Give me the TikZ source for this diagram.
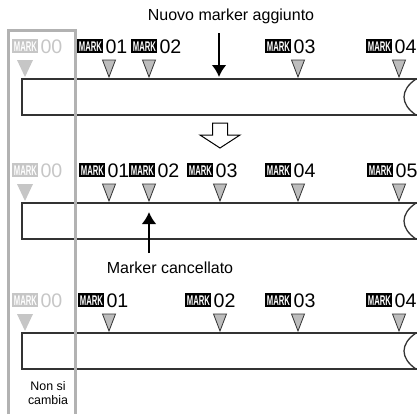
\documentclass[tikz,border=0pt]{standalone}
\usepackage{fontspec}
\setmainfont{Liberation Sans}
\usepackage{graphicx}
\usetikzlibrary{arrows.meta}

\definecolor{markgray}{HTML}{BDBDBD}
\definecolor{fadegray}{HTML}{C6C6C6}
\definecolor{boxgray}{HTML}{B2B2B2}

% badge "MARK" + number
\newcommand{\markbadge}[1]{{\setlength{\fboxsep}{0pt}\colorbox{#1}{\makebox[13pt]{\rule{0pt}{7pt}\raisebox{1pt}{\color{white}\scalebox{0.55}[1]{\fontsize{7}{7}\selectfont\bfseries MARK}}}}}}
\newcommand{\marklabel}[2]{\markbadge{#1}\hspace{1.1pt}{\fontsize{9.8}{10}\selectfont\textcolor{#1}{#2}}}

\begin{document}
\begin{tikzpicture}[x=0.5pt, y=-0.5pt, >=Latex,
  every node/.style={inner sep=0pt, font=\fontsize{8}{9.6}\selectfont},
  lbl/.style={anchor=base west},
  strip/.style={draw=black!80, line width=0.65pt},
  tri/.style={fill=markgray, draw=black!80, line width=0.4pt},
  fadetri/.style={fill=fadegray},
  arrow/.style={-{Latex[length=6pt,width=7.5pt]}, line width=1.4pt}]
  \useasboundingbox (0,0) rectangle (417,414);

  % Row 1: new marker added
  \node (added) at (231,16) {Nuovo marker aggiunto};
  \draw[strip] (417,79) -- (22,79) -- (22,115) -- (417,115);
  \draw[strip] (416,79) .. controls (400,90) and (400,104) .. (416,115);
  \node[lbl] (r1m00) at (12,53) {\marklabel{fadegray}{00}};
  \node[lbl] (r1m01) at (77,53) {\marklabel{black}{01}};
  \node[lbl] (r1m02) at (131,53) {\marklabel{black}{02}};
  \node[lbl] (r1m03) at (265,53) {\marklabel{black}{03}};
  \node[lbl] (r1m04) at (366,53) {\marklabel{black}{04}};
  \fill[fadetri] (25,77) -- ++(-8,-17) -- ++(16,0) -- cycle;
  \draw[tri] (109,77) -- ++(-6.5,-17) -- ++(13,0) -- cycle;
  \draw[tri] (149,77) -- ++(-6.5,-17) -- ++(13,0) -- cycle;
  \draw[tri] (298,77) -- ++(-6.5,-17) -- ++(13,0) -- cycle;
  \draw[tri] (399,77) -- ++(-6.5,-17) -- ++(13,0) -- cycle;
  \coordinate (newtop) at (219,33);
  \coordinate (newpos) at (219,77);
  \draw[arrow] (newtop) -- (newpos);

  % Hollow arrow
  \draw[fill=white, line width=0.5pt] (212.5,123) -- (227.5,123) -- (227.5,135) -- (240,135)
    -- (220,148) -- (200,135) -- (212.5,135) -- cycle;

  % Row 2: markers renumbered
  \draw[strip] (417,203) -- (22,203) -- (22,239) -- (417,239);
  \draw[strip] (416,203) .. controls (400,214) and (400,228) .. (416,239);
  \node[lbl] (r2m00) at (12,177) {\marklabel{fadegray}{00}};
  \node[lbl] (r2m01) at (79,177) {\marklabel{black}{01}};
  \node[lbl] (r2m02) at (129,177) {\marklabel{black}{02}};
  \node[lbl] (r2m03) at (187,177) {\marklabel{black}{03}};
  \node[lbl] (r2m04) at (265,177) {\marklabel{black}{04}};
  \node[lbl] (r2m05) at (367,177) {\marklabel{black}{05}};
  \fill[fadetri] (25,201) -- ++(-8,-17) -- ++(16,0) -- cycle;
  \draw[tri] (109,201) -- ++(-6.5,-17) -- ++(13,0) -- cycle;
  \draw[tri] (149,201) -- ++(-6.5,-17) -- ++(13,0) -- cycle;
  \draw[tri] (220,201) -- ++(-6.5,-17) -- ++(13,0) -- cycle;
  \draw[tri] (298,201) -- ++(-6.5,-17) -- ++(13,0) -- cycle;
  \draw[tri] (399,201) -- ++(-6.5,-17) -- ++(13,0) -- cycle;
  \coordinate (delbot) at (149,253);
  \coordinate (delpos) at (149,212);
  \draw[arrow] (delbot) -- (delpos);
  \node (deleted) at (170,268) {Marker cancellato};

  % Row 3: after deletion
  \draw[strip] (417,333) -- (22,333) -- (22,369) -- (417,369);
  \draw[strip] (416,333) .. controls (400,344) and (400,358) .. (416,369);
  \node[lbl] (r3m00) at (12,307) {\marklabel{fadegray}{00}};
  \node[lbl] (r3m01) at (78,307) {\marklabel{black}{01}};
  \node[lbl] (r3m02) at (185,307) {\marklabel{black}{02}};
  \node[lbl] (r3m03) at (265,307) {\marklabel{black}{03}};
  \node[lbl] (r3m04) at (366,307) {\marklabel{black}{04}};
  \fill[fadetri] (25,331) -- ++(-8,-17) -- ++(16,0) -- cycle;
  \draw[tri] (109,331) -- ++(-6.5,-17) -- ++(13,0) -- cycle;
  \draw[tri] (220,331) -- ++(-6.5,-17) -- ++(13,0) -- cycle;
  \draw[tri] (298,331) -- ++(-6.5,-17) -- ++(13,0) -- cycle;
  \draw[tri] (399,331) -- ++(-6.5,-17) -- ++(13,0) -- cycle;

  % Fixed marker frame
  \draw[boxgray, line width=1.5pt] (8.5,414) -- (8.5,30.5) -- (75,30.5) -- (75,414);
  \node[align=center, font=\fontsize{6.2}{7}\selectfont] (fixed) at (48,393) {Non si\\cambia};
\end{tikzpicture}
\end{document}
